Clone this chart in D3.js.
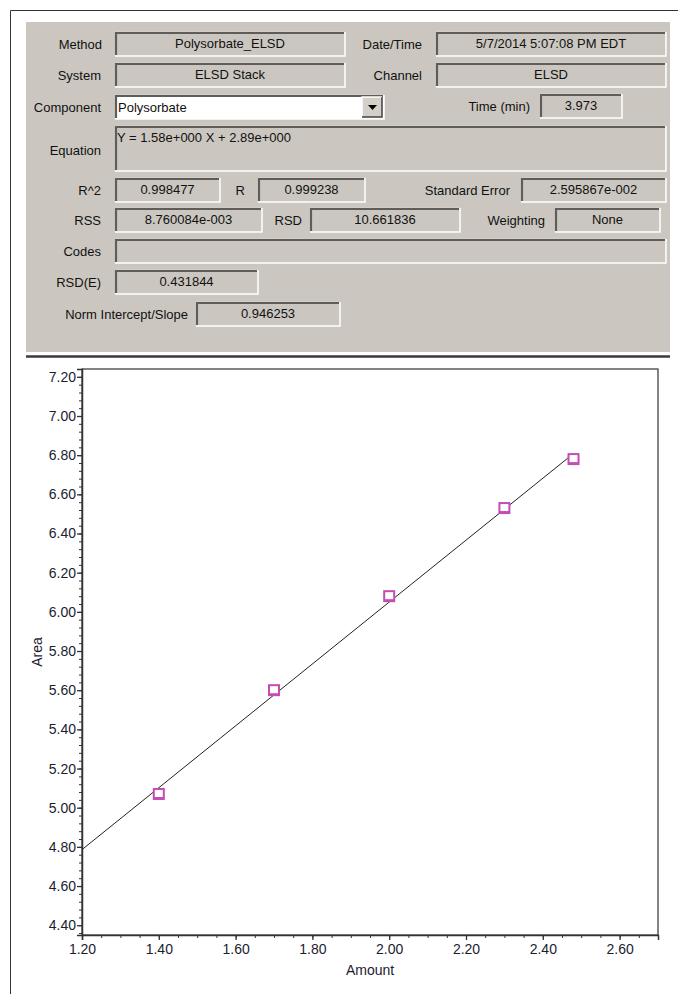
<!DOCTYPE html>
<html>
<head>
<meta charset="utf-8">
<script src="https://d3js.org/d3.v7.min.js"></script>
<style>
  body { margin: 0; background: #fff; }
  svg text { font-family: "Liberation Sans", Arial, sans-serif; }
</style>
</head>
<body>
<div id="vis"></div>
<script>
  // calibration points
  var amounts = [1.40, 1.70, 2.00, 2.30, 2.48]
  var areas = [5.07, 5.60, 6.08, 6.53, 6.78]

  // fitted line Y = 1.58 X + 2.89, drawn from the left edge to the last standard
  var slope = 1.58
  var intercept = 2.89
  var fitRange = [1.20, 2.48]

  var xTicks = [1.20, 1.40, 1.60, 1.80, 2.00, 2.20, 2.40, 2.60]
  var yTicks = [4.40, 4.60, 4.80, 5.00, 5.20, 5.40, 5.60, 5.80, 6.00, 6.20, 6.40, 6.60, 6.80, 7.00, 7.20]

  // results panel text
  var panelLabels = ["Method", "Date/Time", "System", "Channel", "Component", "Time (min)", "Equation",
    "R^2", "R", "Standard Error", "RSS", "RSD", "Weighting", "Codes", "RSD(E)", "Norm Intercept/Slope"]
  var panelValues = ["Polysorbate_ELSD", "5/7/2014 5:07:08 PM EDT", "ELSD Stack", "ELSD", "Polysorbate", "3.973",
    "Y = 1.58e+000 X + 2.89e+000", "0.998477", "0.999238", "2.595867e-002", "8.760084e-003", "10.661836", "None",
    "", "0.431844", "0.946253"]

  var W = 678, H = 994
  var svg = d3.select("#vis").append("svg")
    .attr("width", W).attr("height", H)

  // outer window edge
  svg.append("path").attr("d", "M10.5," + H + "V10.5H" + W)
    .attr("stroke", "#333").attr("fill", "none")

  // ---------- top panel ----------
  var panelBg = "#cbc7c0"
  var panel = svg.append("g")
  panel.append("rect").attr("x", 26).attr("y", 22).attr("width", 644).attr("height", 330).attr("fill", panelBg)
  panel.append("line").attr("x1", 26).attr("x2", 670).attr("y1", 353).attr("y2", 353).attr("stroke", "#fff").attr("stroke-width", 2)
  panel.append("line").attr("x1", 26).attr("x2", 670).attr("y1", 356.5).attr("y2", 356.5).attr("stroke", "#3a3a3a").attr("stroke-width", 2.5)

  function sunken(x, y, w, h, fill) {
    panel.append("rect").attr("x", x).attr("y", y).attr("width", w).attr("height", h).attr("fill", fill)
    panel.append("path").attr("d", "M" + x + "," + (y + h) + "V" + y + "H" + (x + w))
      .attr("stroke", "#d8d5cf").attr("stroke-width", 1).attr("fill", "none")
    panel.append("path").attr("d", "M" + (x + 1) + "," + (y + h - 1) + "V" + (y + 1) + "H" + (x + w - 1))
      .attr("stroke", "#5f5d5a").attr("stroke-width", 2.2).attr("fill", "none")
    panel.append("path").attr("d", "M" + x + "," + (y + h) + "H" + (x + w) + "V" + y)
      .attr("stroke", "#fff").attr("stroke-width", 1.5).attr("fill", "none")
  }

  function label(txt, x, y, anchor) {
    panel.append("text").attr("x", x).attr("y", y).attr("dy", "0.35em")
      .attr("text-anchor", anchor || "end").attr("font-size", 13).attr("fill", "#111").text(txt)
  }

  function field(i, lx, bx, by, bw, bh, opts) {
    opts = opts || {}
    label(panelLabels[i], lx, by + 12, opts.labelAnchor)
    sunken(bx, by, bw, bh, opts.fill || panelBg)
    var v = panelValues[i]
    if (v === "") return
    if (opts.left) {
      panel.append("text").attr("x", bx + 3).attr("y", by + 12).attr("dy", "0.35em")
        .attr("font-size", 13).attr("fill", "#111").text(v)
    } else {
      panel.append("text").attr("x", bx + bw / 2).attr("y", by + 11).attr("dy", "0.35em")
        .attr("text-anchor", "middle").attr("font-size", 13).attr("fill", "#111").text(v)
    }
  }

  field(0, 102, 115, 32, 230, 24)
  field(1, 422, 436, 32, 230, 24)
  field(2, 101, 115, 63, 230, 24)
  field(3, 422, 436, 63, 230, 24)
  field(4, 101, 115, 95, 269, 24, {fill: "#fff", left: true})
  field(5, 530, 540, 94, 82, 24)
  // Equation: label sits mid-box, value at top left
  label(panelLabels[6], 101, 150)
  sunken(115, 126, 551, 45, panelBg)
  panel.append("text").attr("x", 117).attr("y", 137).attr("dy", "0.35em")
    .attr("font-size", 13).attr("fill", "#111").text(panelValues[6])
  field(7, 101, 115, 178, 105, 24)
  field(8, 245, 258, 178, 107, 24)
  field(9, 510, 521, 178, 145, 24)
  field(10, 101, 115, 208, 147, 24)
  field(11, 302, 310, 208, 150, 24)
  field(12, 545, 555, 208, 105, 24)
  field(13, 101, 115, 239, 551, 24)
  field(14, 101, 115, 270, 143, 24)
  field(15, 188, 196, 302, 144, 24)

  // combo dropdown button
  var bx = 362, by = 97, bw = 20, bh = 20
  panel.append("rect").attr("x", bx).attr("y", by).attr("width", bw).attr("height", bh).attr("fill", "#d4d0c8")
  panel.append("path").attr("d", "M" + bx + "," + (by + bh) + "V" + by + "H" + (bx + bw))
    .attr("stroke", "#fff").attr("stroke-width", 1.5).attr("fill", "none")
  panel.append("path").attr("d", "M" + bx + "," + (by + bh) + "H" + (bx + bw) + "V" + by)
    .attr("stroke", "#404040").attr("stroke-width", 1.5).attr("fill", "none")
  panel.append("path").attr("d", "M" + (bx + 6) + "," + (by + 8) + "h9l-4.5,5z").attr("fill", "#000")

  // ---------- calibration plot ----------
  var plot = {left: 82, right: 658, top: 369, bottom: 935}

  var x = d3.scaleLinear().domain([1.20, 2.70]).range([plot.left, plot.right])
  var y = d3.scaleLinear().domain([4.35, 7.24]).range([plot.bottom, plot.top])

  var g = svg.append("g")

  // frame
  g.append("rect").attr("x", plot.left).attr("y", plot.top)
    .attr("width", plot.right - plot.left).attr("height", plot.bottom - plot.top)
    .attr("fill", "none").attr("stroke", "#333").attr("stroke-width", 1.2)

  // x axis, minor ticks every 0.05
  var xMinor = d3.range(24, 55).map(function(d) { return d * 0.05 })
  g.append("g").attr("transform", "translate(0," + plot.bottom + ")")
    .call(d3.axisBottom(x).tickValues(xMinor).tickSize(3).tickFormat(""))
    .call(function(a) { a.select(".domain").remove() })
    .selectAll("line").attr("stroke", "#333")
  g.append("g").attr("transform", "translate(0," + plot.bottom + ")")
    .call(d3.axisBottom(x).tickValues(xTicks).tickSize(5).tickPadding(4).tickFormat(d3.format(".2f")))
    .call(function(a) {
      a.select(".domain").attr("stroke", "#333").attr("stroke-width", 1.5)
      a.selectAll("line").attr("stroke", "#333").attr("stroke-width", 1.3)
      a.selectAll("text").attr("font-size", 14).attr("fill", "#1c1c30")
        .attr("font-family", "Liberation Sans, Arial, sans-serif")
    })

  // y axis, minor ticks every 0.04
  var yMinor = d3.range(109, 182).map(function(d) { return d * 0.04 })
  g.append("g").attr("transform", "translate(" + plot.left + ",0)")
    .call(d3.axisLeft(y).tickValues(yMinor).tickSize(3).tickFormat(""))
    .call(function(a) { a.select(".domain").remove() })
    .selectAll("line").attr("stroke", "#333")
  g.append("g").attr("transform", "translate(" + plot.left + ",0)")
    .call(d3.axisLeft(y).tickValues(yTicks).tickSize(5).tickPadding(1).tickFormat(d3.format(".2f")))
    .call(function(a) {
      a.select(".domain").attr("stroke", "#333").attr("stroke-width", 1.5)
      a.selectAll("line").attr("stroke", "#333").attr("stroke-width", 1.3)
      a.selectAll("text").attr("font-size", 14).attr("fill", "#1c1c30")
        .attr("font-family", "Liberation Sans, Arial, sans-serif")
    })

  // axis titles
  g.append("text").attr("x", (plot.left + plot.right) / 2).attr("y", 970).attr("dy", "0.35em")
    .attr("text-anchor", "middle").attr("font-size", 14).attr("fill", "#1c1c30").text("Amount")
  g.append("text").attr("transform", "translate(37," + ((plot.top + plot.bottom) / 2) + ") rotate(-90)")
    .attr("dy", "0.35em").attr("text-anchor", "middle").attr("font-size", 14).attr("fill", "#1c1c30").text("Area")

  // regression line
  var line = d3.line().x(function(d) { return x(d) }).y(function(d) { return y(slope * d + intercept) })
  g.append("path").datum(fitRange).attr("d", line)
    .attr("fill", "none").attr("stroke", "#222").attr("stroke-width", 1)

  // standards
  var pts = amounts.map(function(a, i) { return [a, areas[i]] })
  g.selectAll("rect.pt").data(pts).enter().append("rect").attr("class", "pt")
    .attr("x", function(d) { return x(d[0]) - 5 })
    .attr("y", function(d) { return y(d[1]) - 5 })
    .attr("width", 10).attr("height", 10)
    .attr("fill", "#fff").attr("stroke", "#c44db4").attr("stroke-width", 2)
  g.selectAll("line.pt").data(pts).enter().append("line").attr("class", "pt")
    .attr("x1", function(d) { return x(d[0]) - 5 }).attr("x2", function(d) { return x(d[0]) + 5 })
    .attr("y1", function(d) { return y(d[1]) + 4 }).attr("y2", function(d) { return y(d[1]) + 4 })
    .attr("stroke", "#c44db4").attr("stroke-width", 2)
</script>
</body>
</html>
